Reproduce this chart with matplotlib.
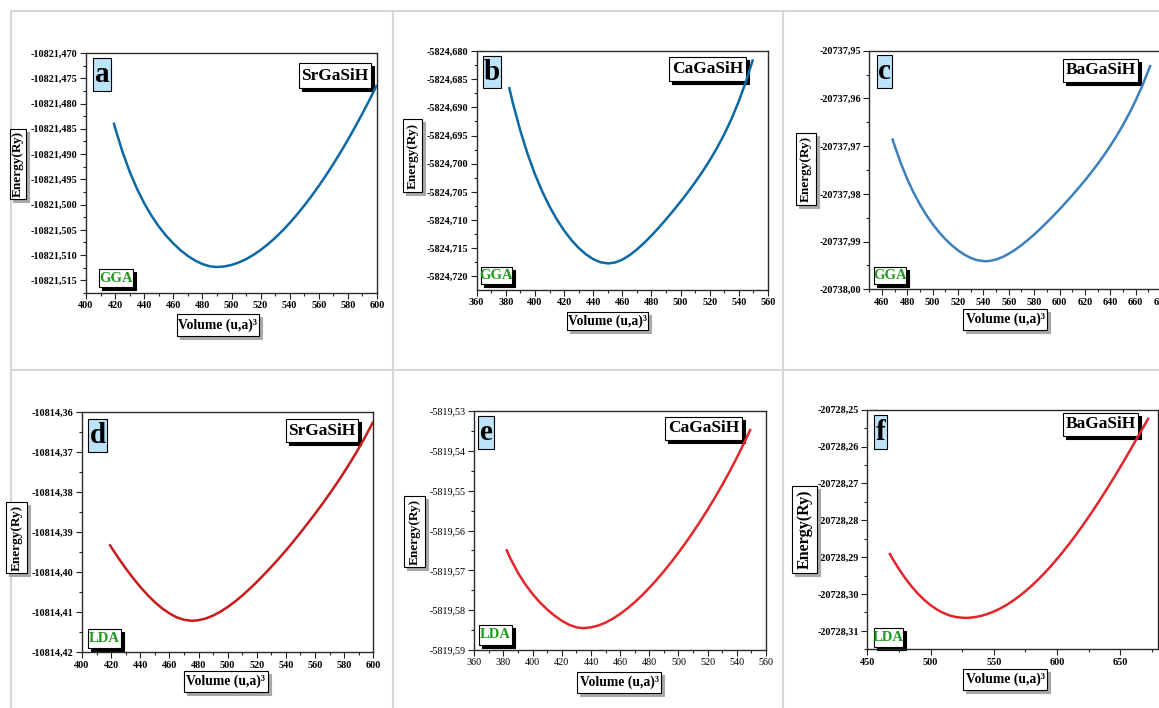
import matplotlib
matplotlib.use("Agg")
import matplotlib.pyplot as plt
from matplotlib.patches import Rectangle
from matplotlib.lines import Line2D
from matplotlib.ticker import MultipleLocator, FuncFormatter

W, H = 1159, 708
plt.rcParams['font.family'] = ['Liberation Serif', 'DejaVu Serif']
plt.rcParams['font.weight'] = 'bold'

# E(V) curves: volume (u,a)^3 and total energy (Ry)
a_vol = [419.0, 420, 425, 430, 435, 440, 445, 450, 455, 460, 465, 470, 475, 480, 485, 489.8,
         495, 500, 505, 510, 515, 520, 525, 530, 535, 540, 545, 550, 555, 560, 565, 570,
         575, 580, 585, 590, 595, 600]
a_en = [-10821.48379, -10821.48482, -10821.48950, -10821.49347, -10821.49685, -10821.49974,
        -10821.50220, -10821.50432, -10821.50614, -10821.50770, -10821.50904, -10821.51017,
        -10821.51108, -10821.51177, -10821.51221, -10821.51236, -10821.51225, -10821.51195,
        -10821.51146, -10821.51080, -10821.50997, -10821.50899, -10821.50786, -10821.50659,
        -10821.50518, -10821.50364, -10821.50198, -10821.50020, -10821.49831, -10821.49630,
        -10821.49418, -10821.49196, -10821.48962, -10821.48718, -10821.48462, -10821.48196,
        -10821.47919, -10821.47630]

b_vol = [382.2, 385, 390, 395, 400, 405, 410, 415, 420, 425, 430, 435, 440, 445, 450.3,
         455, 460, 465, 470, 475, 480, 485, 490, 495, 500, 505, 510, 515, 520, 525, 530,
         535, 540, 545, 549.7]
b_en = [-5824.68639, -5824.68940, -5824.69418, -5824.69830, -5824.70186, -5824.70493,
        -5824.70758, -5824.70987, -5824.71185, -5824.71353, -5824.71494, -5824.71607,
        -5824.71693, -5824.71748, -5824.71769, -5824.71752, -5824.71701, -5824.71622,
        -5824.71521, -5824.71404, -5824.71274, -5824.71134, -5824.70986, -5824.70832,
        -5824.70671, -5824.70504, -5824.70328, -5824.70141, -5824.69939, -5824.69719,
        -5824.69475, -5824.69201, -5824.68889, -5824.68532, -5824.68148]

c_vol = [468.1, 470, 475, 480, 485, 490, 495, 500, 505, 510, 515, 520, 525, 530, 535, 541.3,
         545, 550, 555, 560, 565, 570, 575, 580, 585, 590, 595, 600, 605, 610, 615, 620,
         625, 630, 635, 640, 645, 650, 655, 660, 665, 671.8]
c_en = [-20737.96837, -20737.96994, -20737.97369, -20737.97695, -20737.97979, -20737.98227,
        -20737.98445, -20737.98636, -20737.98803, -20737.98950, -20737.99077, -20737.99185,
        -20737.99274, -20737.99343, -20737.99390, -20737.99412, -20737.99405, -20737.99375,
        -20737.99324, -20737.99255, -20737.99171, -20737.99074, -20737.98967, -20737.98851,
        -20737.98728, -20737.98598, -20737.98463, -20737.98324, -20737.98179, -20737.98030,
        -20737.97877, -20737.97717, -20737.97550, -20737.97376, -20737.97191, -20737.96995,
        -20737.96785, -20737.96559, -20737.96313, -20737.96044, -20737.95750, -20737.95300]

d_vol = [418.8, 420, 425, 430, 435, 440, 445, 450, 455, 460, 465, 470, 475.5, 480, 485,
         490, 495, 500, 505, 510, 515, 520, 525, 530, 535, 540, 545, 550, 555, 560, 565,
         570, 575, 580, 585, 590, 595, 600]
d_en = [-10814.39300, -10814.39368, -10814.39643, -10814.39902, -10814.40142, -10814.40365,
        -10814.40566, -10814.40746, -10814.40901, -10814.41028, -10814.41125, -10814.41187,
        -10814.41212, -10814.41198, -10814.41154, -10814.41081, -10814.40985, -10814.40868,
        -10814.40733, -10814.40582, -10814.40417, -10814.40242, -10814.40056, -10814.39863,
        -10814.39662, -10814.39454, -10814.39234, -10814.39008, -10814.38775, -10814.38537,
        -10814.38291, -10814.38036, -10814.37771, -10814.37495, -10814.37205, -10814.36901,
        -10814.36577, -10814.36232]

e_vol = [381.9, 385, 390, 395, 400, 405, 410, 415, 420, 425, 430, 434.5, 440, 445, 450,
         455, 460, 465, 470, 475, 480, 485, 490, 495, 500, 505, 510, 515, 520, 525, 530,
         535, 540, 545, 549.5]
e_en = [-5819.56469, -5819.56720, -5819.57067, -5819.57354, -5819.57597, -5819.57805,
        -5819.57984, -5819.58137, -5819.58266, -5819.58366, -5819.58431, -5819.58452,
        -5819.58433, -5819.58386, -5819.58312, -5819.58214, -5819.58095, -5819.57956,
        -5819.57800, -5819.57627, -5819.57439, -5819.57237, -5819.57022, -5819.56795,
        -5819.56555, -5819.56304, -5819.56040, -5819.55764, -5819.55475, -5819.55173,
        -5819.54855, -5819.54522, -5819.54171, -5819.53801, -5819.53450]

f_vol = [467.4, 470, 475, 480, 485, 490, 495, 500, 505, 510, 515, 520, 527.1, 530, 535,
         540, 545, 550, 555, 560, 565, 570, 575, 580, 585, 590, 595, 600, 605, 610, 615,
         620, 625, 630, 635, 640, 645, 650, 655, 660, 665, 672.4]
f_en = [-20728.28889, -20728.29045, -20728.29322, -20728.29572, -20728.29794, -20728.29990,
        -20728.30159, -20728.30302, -20728.30420, -20728.30513, -20728.30581, -20728.30626,
        -20728.30649, -20728.30646, -20728.30628, -20728.30593, -20728.30542, -20728.30475,
        -20728.30394, -20728.30297, -20728.30186, -20728.30061, -20728.29923, -20728.29772,
        -20728.29609, -20728.29433, -20728.29246, -20728.29048, -20728.28839, -20728.28620,
        -20728.28391, -20728.28153, -20728.27905, -20728.27650, -20728.27386, -20728.27115,
        -20728.26837, -20728.26552, -20728.26261, -20728.25964, -20728.25662, -20728.25220]

compounds = ['SrGaSiH', 'CaGaSiH', 'BaGaSiH', 'SrGaSiH', 'CaGaSiH', 'BaGaSiH']
letters = ['a', 'b', 'c', 'd', 'e', 'f']
methods = ['GGA', 'GGA', 'GGA', 'LDA', 'LDA', 'LDA']

# layout in pixels (left, top, right, bottom) of the original picture
panels = [
    dict(vol=a_vol, en=a_en, color='#0b69a6', xlim=(400, 600), ylim=(-10821.5175, -10821.470),
         xstep=20, ystep=0.005, dec=3, ax=(86, 53, 377, 293),
         ylab=(10, 129, 26, 199), xlab=(177, 314, 259, 336), let=(93, 58, 111, 91),
         comp=(299, 63, 371, 88), meth=(99, 269, 133, 287), ysize=9.5),
    dict(vol=b_vol, en=b_en, color='#0b69a6', xlim=(360, 560), ylim=(-5824.7224, -5824.680),
         xstep=20, ystep=0.005, dec=3, ax=(476.7, 51, 768, 290),
         ylab=(403, 119, 422, 192), xlab=(567, 312, 648, 330), let=(483, 56, 501, 88),
         comp=(669, 57, 746, 81), meth=(481, 267, 512, 284), ysize=9.5),
    dict(vol=c_vol, en=c_en, color='#3c80c0', xlim=(450, 680), ylim=(-20738.00, -20737.95),
         xstep=20, ystep=0.01, dec=2, ax=(869.3, 50.7, 1161, 289.3),
         ylab=(796, 133, 816, 205), xlab=(963, 309, 1047, 330), let=(877, 55, 892, 88),
         comp=(1063, 59, 1138, 82), meth=(874, 267, 906, 284), ysize=9.5),
    dict(vol=d_vol, en=d_en, color='#c81a1a', xlim=(400, 600), ylim=(-10814.42, -10814.36),
         xstep=20, ystep=0.01, dec=2, ax=(82, 412.3, 373.3, 652.3),
         ylab=(6, 502, 27, 573), xlab=(184, 671, 268, 692), let=(88, 419, 107, 452),
         comp=(286, 419, 358, 442), meth=(88, 629, 121, 648), ysize=9.5),
    dict(vol=e_vol, en=e_en, color='#e5262a', xlim=(360, 560), ylim=(-5819.59, -5819.53),
         xstep=20, ystep=0.01, dec=2, ax=(474.3, 411, 766, 650),
         ylab=(404, 496, 425, 567), xlab=(577, 672, 661, 693), let=(478, 416, 494, 449),
         comp=(665, 417, 742, 440), meth=(479, 625, 512, 645), ysize=9.5, light=True),
    dict(vol=f_vol, en=f_en, color='#e3242b', xlim=(450, 680), ylim=(-20728.315, -20728.25),
         xstep=50, ystep=0.01, dec=2, ax=(867.3, 409.7, 1158.3, 649.3),
         ylab=(792, 486, 817, 573), xlab=(963, 669, 1047, 690), let=(874, 415, 887, 449),
         comp=(1063, 413, 1138, 436), meth=(874, 628, 903, 647), ysize=11.5),
]


def frac(x, y):
    return x / W, 1 - y / H


def rect(target, box, fc, ec='black', lw=0.8, z=5, dx=0, dy=0):
    x0, y0, x1, y1 = box
    fx, fy = frac(x0 + dx, y1 + dy)
    r = Rectangle((fx, fy), (x1 - x0) / W, (y1 - y0) / H, transform=fig.transFigure,
                  fc=fc, ec=ec, lw=lw, zorder=z, clip_on=False)
    if target is fig:
        fig.add_artist(r)
    else:
        target.add_patch(r)


def boxed(target, box, text, color='black', size=10, fc='white', shadow=None,
          rot=0, sh=3, z=5):
    if shadow:
        rect(target, box, shadow, ec=shadow, z=z, dx=sh, dy=sh)
    rect(target, box, fc, z=z)
    cx, cy = frac((box[0] + box[2]) / 2, (box[1] + box[3]) / 2)
    target.text(cx, cy, text, color=color, fontsize=size, ha='center', va='center',
                rotation=rot, transform=fig.transFigure, zorder=z + 0.1, clip_on=False)


fig = plt.figure(figsize=(W / 100, H / 100), dpi=100)

# light grey table borders
for x in (11, 393, 783):
    fig.add_artist(Line2D([x / W, x / W], [1 - 11 / H, 0], color='#d6d6d6', lw=1.5))
for y in (11, 370):
    fig.add_artist(Line2D([11 / W, 1], [1 - y / H, 1 - y / H], color='#d6d6d6', lw=1.5))

for i, p in enumerate(panels):
    l, t, r, b = p['ax']
    ax = fig.add_axes([l / W, 1 - b / H, (r - l) / W, (b - t) / H])
    ax.plot(p['vol'], p['en'], color=p['color'], lw=1.8, zorder=3,
            solid_capstyle='butt', solid_joinstyle='round')
    ax.set_xlim(*p['xlim'])
    ax.set_ylim(*p['ylim'])
    ax.xaxis.set_major_locator(MultipleLocator(p['xstep']))
    ax.xaxis.set_minor_locator(MultipleLocator(p['xstep'] / 2))
    ax.yaxis.set_major_locator(MultipleLocator(p['ystep']))
    ax.yaxis.set_minor_locator(MultipleLocator(p['ystep'] / 2))
    ax.yaxis.set_major_formatter(FuncFormatter(
        lambda v, pos, d=p['dec']: f"{v:.{d}f}".replace('.', ',')))
    ax.xaxis.set_major_formatter(FuncFormatter(lambda v, pos: f"{v:.0f}"))
    weight = 'normal' if p.get('light') else 'bold'
    ax.tick_params(which='both', direction='out', top=False, right=False,
                   labelsize=7.3, width=0.8, color='#222222', pad=2)
    ax.tick_params(which='major', length=4)
    ax.tick_params(which='minor', length=2.5)
    for lab in ax.get_xticklabels() + ax.get_yticklabels():
        lab.set_fontweight(weight)
    for s in ax.spines.values():
        s.set_color('#2a2a2a')
        s.set_linewidth(1.0)

    boxed(ax, p['let'], letters[i], size=21, fc='#bde3f8', z=1)
    boxed(ax, p['comp'], compounds[i], size=12.5, shadow='black', z=1)
    boxed(ax, p['meth'], methods[i], color='#1d9a1d', size=10.5, shadow='black', z=1)

    boxed(fig, p['ylab'], 'Energy(Ry)', size=p['ysize'], shadow='#a8a8a8', rot=90)
    boxed(fig, p['xlab'], 'Volume (u,a)³', size=9.8, shadow='#a8a8a8')

fig.savefig('out.png', dpi=100)
